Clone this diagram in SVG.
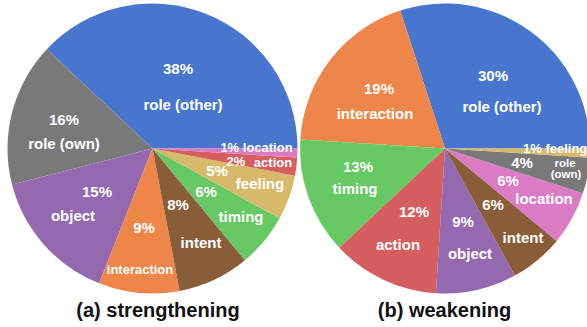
<svg xmlns="http://www.w3.org/2000/svg" width="587" height="327" viewBox="0 0 587 327">
<style>
text{font-family:"Liberation Sans",Arial,Helvetica,sans-serif;font-weight:bold;fill:#fff;font-size:15px;text-anchor:middle}
.s{font-size:13px}
.xs{font-size:11.5px}
.cap{fill:#111;font-size:20px}
.blue{fill:#4876CE}.gray{fill:#797979}.purple{fill:#9469B0}.orange{fill:#EE8649}.brown{fill:#8A5D39}.green{fill:#66C963}.yellow{fill:#D7B96A}.red{fill:#D65E5E}.pink{fill:#DA7BC3}
</style>
<rect width="587" height="327" fill="#fff"/>
<g id="pie-a">
<g id="a-role-other"><path class="blue" d="M152.5,148.5 L297.5,148.5 A145,145 0 0 0 46.8,49.25 Z"/><text x="178" y="74">38%</text><text x="183" y="110">role (other)</text></g>
<g id="a-role-own"><path class="gray" d="M152.5,148.5 L46.8,49.25 A145,145 0 0 0 12.05,184.56 Z"/><text x="64" y="125">16%</text><text x="64" y="149">role (own)</text></g>
<g id="a-object"><path class="purple" d="M152.5,148.5 L12.05,184.56 A145,145 0 0 0 99.13,283.32 Z"/><text x="97" y="197">15%</text><text x="73" y="221">object</text></g>
<g id="a-interaction"><path class="orange" d="M152.5,148.5 L99.13,283.32 A145,145 0 0 0 179.67,290.93 Z"/><text x="144" y="233">9%</text><text class="s" x="140" y="274">interaction</text></g>
<g id="a-intent"><path class="brown" d="M152.5,148.5 L179.67,290.93 A145,145 0 0 0 244.92,260.22 Z"/><text x="178" y="210">8%</text><text x="201" y="248">intent</text></g>
<g id="a-timing"><path class="green" d="M152.5,148.5 L244.92,260.22 A145,145 0 0 0 279.56,218.36 Z"/><text x="206" y="197">6%</text><text x="241" y="222">timing</text></g>
<g id="a-feeling"><path class="yellow" d="M152.5,148.5 L279.56,218.36 A145,145 0 0 0 294.93,175.67 Z"/><text x="217" y="176">5%</text><text x="260" y="189">feeling</text></g>
<g id="a-action"><path class="red" d="M152.5,148.5 L294.93,175.67 A145,145 0 0 0 297.21,157.61 Z"/><text class="s" x="236" y="166">2%</text><text class="s" x="273" y="167">action</text></g>
<g id="a-location"><path class="pink" d="M152.5,148.5 L297.21,157.61 A145,145 0 0 0 297.5,148.5 Z"/><text class="s" x="256.5" y="152">1% location</text></g>
</g>
<g id="pie-b">
<g id="b-role-other"><path class="blue" d="M445,148.5 L590,148.5 A145,145 0 0 0 400.19,10.59 Z"/><text x="493" y="81">30%</text><text x="502" y="112">role (other)</text></g>
<g id="b-interaction"><path class="orange" d="M445,148.5 L400.19,10.59 A145,145 0 0 0 300.29,139.39 Z"/><text x="379" y="94">19%</text><text x="375" y="119">interaction</text></g>
<g id="b-timing"><path class="green" d="M445,148.5 L300.29,139.39 A145,145 0 0 0 339.3,247.75 Z"/><text x="358" y="172">13%</text><text x="355" y="194">timing</text></g>
<g id="b-action"><path class="red" d="M445,148.5 L339.3,247.75 A145,145 0 0 0 435.89,293.21 Z"/><text x="414" y="217">12%</text><text x="398" y="250">action</text></g>
<g id="b-object"><path class="purple" d="M445,148.5 L435.89,293.21 A145,145 0 0 0 514.86,275.56 Z"/><text x="463" y="227">9%</text><text x="470" y="259">object</text></g>
<g id="b-intent"><path class="brown" d="M445,148.5 L514.86,275.56 A145,145 0 0 0 556.72,240.92 Z"/><text x="493" y="210">6%</text><text x="523" y="243">intent</text></g>
<g id="b-location"><path class="pink" d="M445,148.5 L556.72,240.92 A145,145 0 0 0 582.91,193.31 Z"/><text x="508" y="186">6%</text><text x="544" y="204">location</text></g>
<g id="b-role-own"><path class="gray" d="M445,148.5 L582.91,193.31 A145,145 0 0 0 589.71,157.61 Z"/><text x="522" y="168">4%</text><text class="xs" x="565" y="166.5">role</text><text class="xs" x="566" y="178">(own)</text></g>
<g id="b-feeling"><path class="yellow" d="M445,148.5 L589.71,157.61 A145,145 0 0 0 590,148.5 Z"/><text class="s" x="523" y="153" style="text-anchor:start">1% feeling</text></g>
</g>
<text class="cap" x="158" y="317">(a) strengthening</text>
<text class="cap" x="444.5" y="317">(b) weakening</text>
</svg>
